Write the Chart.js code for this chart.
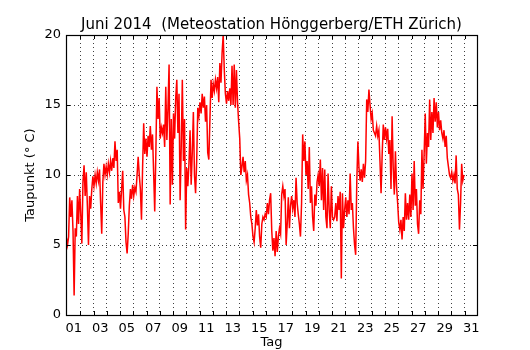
<!DOCTYPE html>
<html><head><meta charset="utf-8">
<script src="https://cdn.jsdelivr.net/npm/chart.js@4.4.1/dist/chart.umd.min.js"></script>
<style>html,body{margin:0;padding:0;background:#fff}</style>
</head><body>
<canvas id="c" width="530" height="350"></canvas>
<script>
// Dew point readings every 2 hours (°C)
const startDay = 0.45;       // x position (day units) of the first reading
const stepDays = 1 / 12;     // 2-hour spacing
const juni01_05 = [
  5.5,5.0,5.6,8.4,7.0,8.2,6.0,1.4,6.2,5.6,8.5,6.5,
  9.0,7.2,5.1,9.5,10.7,8.5,10.2,7.8,5.0,8.5,7.6,9.0,
  9.9,9.2,10.0,9.4,10.2,9.6,10.4,8.0,5.8,9.5,10.8,10.0,
  10.6,10.0,10.8,10.2,11.0,10.3,11.2,10.5,12.4,11.0,11.8,8.0,
  8.8,7.6,9.0,10.3,7.5,7.0,5.2,4.4,5.8,7.8,9.0,8.3];
const juni06_10 = [
  9.3,8.5,9.1,8.8,10.0,11.3,10.0,9.0,6.8,10.5,13.7,11.5,
  12.6,11.3,12.8,12.0,13.5,11.8,12.9,10.2,7.4,11.5,16.3,14.0,
  15.5,12.6,13.4,13.0,13.6,12.0,16.3,12.5,14.8,17.9,7.9,14.0,
  9.3,14.4,12.6,15.5,16.8,13.0,15.8,8.2,12.0,16.8,11.0,14.0,
  6.1,10.5,9.2,10.8,13.2,9.3,11.6,14.5,10.0,8.7,11.0,14.8];
const juni11_15 = [
  14.2,15.2,14.4,15.8,14.8,15.6,13.8,15.0,11.6,11.1,14.0,16.8,
  15.5,16.5,16.0,16.8,16.2,17.0,15.2,18.0,16.6,18.7,20.0,17.5,
  15.8,15.1,16.0,15.3,16.2,15.0,17.8,15.0,17.9,14.8,17.5,15.2,
  13.8,12.6,10.0,10.6,11.3,10.2,11.0,9.6,10.0,8.6,8.0,7.0,
  6.5,5.6,5.2,6.2,7.5,6.4,7.2,5.6,4.8,6.5,7.0,6.8];
const juni16_20 = [
  7.2,7.0,8.0,7.2,8.2,8.7,6.0,4.6,5.5,4.2,6.0,4.5,
  5.6,6.2,5.8,8.6,9.2,8.5,9.0,5.0,6.5,8.4,6.2,7.8,
  8.5,7.6,8.2,7.0,9.8,8.0,7.2,6.5,5.6,8.0,12.9,11.0,
  12.4,10.0,11.0,9.0,12.0,8.0,9.2,7.0,6.0,8.6,7.8,9.5,
  10.0,9.2,11.1,8.2,10.5,7.5,10.4,7.0,6.2,10.1,7.5,6.2];
const juni21_25 = [
  9.2,7.0,6.8,7.0,8.0,6.7,8.5,7.5,8.8,2.6,8.7,6.2,
  7.5,8.4,7.0,8.2,7.2,10.1,7.5,8.0,6.2,5.0,4.3,9.5,
  12.4,10.5,9.6,10.4,9.5,10.8,9.8,11.0,15.4,14.5,16.1,15.0,
  14.0,14.4,13.2,13.0,12.8,13.5,12.8,13.2,11.0,8.7,11.5,13.6,
  12.5,13.4,12.6,13.3,11.5,12.5,9.0,14.2,10.5,8.6,11.7,9.2];
const juni26_30 = [
  8.0,6.6,6.1,6.8,5.4,7.0,6.0,8.7,6.8,8.0,6.8,8.6,
  7.0,10.1,7.5,11.0,7.8,9.0,6.5,5.8,8.2,7.2,11.8,9.0,
  11.5,14.4,10.8,13.0,12.0,15.4,12.5,14.5,13.0,15.5,13.8,15.2,
  13.4,14.5,13.2,13.9,13.0,12.6,13.2,12.0,12.8,11.2,10.6,10.0,
  9.8,10.2,9.6,10.0,9.4,11.4,9.0,8.6,6.1,8.0,10.8,9.6,
  10.0];
const yTicks = [0, 5, 10, 15, 20];
const dayLabels = ['01','03','05','07','09','11','13','15','17','19','21','23','25','27','29','31'];
const chartTitle = 'Juni 2014  (Meteostation Hönggerberg/ETH Zürich)';

const dew = [].concat(juni01_05, juni06_10, juni11_15, juni16_20, juni21_25, juni26_30);
const points = dew.map((v, i) => ({ x: startDay + i * stepDays, y: v }));

const FONT = 'DejaVu Sans';
const isHalf = v => Math.abs(v % 1 - 0.5) < 1e-6;

const framePlugin = {
  id: 'frame',
  afterDatasetsDraw(chart) {
    const { ctx, chartArea: a, scales: { x, y } } = chart;
    ctx.save();
    ctx.strokeStyle = '#000';
    ctx.lineWidth = 1;
    ctx.beginPath();
    x.ticks.forEach(t => {
      if (!isHalf(t.value)) return;
      const px = Math.round(x.getPixelForValue(t.value)) + 0.5;
      ctx.moveTo(px, a.bottom); ctx.lineTo(px, a.bottom - 4);
      ctx.moveTo(px, a.top); ctx.lineTo(px, a.top + 4);
    });
    yTicks.forEach(v => {
      const py = Math.round(y.getPixelForValue(v)) + 0.5;
      ctx.moveTo(a.left, py); ctx.lineTo(a.left + 4, py);
      ctx.moveTo(a.right, py); ctx.lineTo(a.right - 4, py);
    });
    ctx.stroke();
    ctx.lineWidth = 1.2;
    ctx.strokeRect(Math.round(a.left) + 0.5, Math.round(a.top) + 0.5,
                   Math.round(a.right - a.left), Math.round(a.bottom - a.top));
    // chart title, centred over the plot area
    ctx.fillStyle = '#000';
    ctx.font = '15px "' + FONT + '"';
    ctx.textAlign = 'center';
    ctx.textBaseline = 'alphabetic';
    ctx.fillText(chartTitle, (a.left + a.right) / 2, a.top - 6.5);
    ctx.restore();
  }
};

new Chart(document.getElementById('c'), {
  type: 'line',
  data: { datasets: [{
    data: points,
    borderColor: '#ff0000',
    borderWidth: 1.5,
    pointRadius: 0,
    fill: false,
    tension: 0
  }]},
  options: {
    responsive: false,
    animation: false,
    layout: { padding: { left: 0, right: 53, top: 35, bottom: 0 } },
    plugins: {
      legend: { display: false },
      tooltip: { enabled: false },
      title: { display: false }
    },
    scales: {
      x: {
        type: 'linear',
        min: 0.42, max: 31.44,
        afterBuildTicks: s => {
          const t = [];
          for (let v = 1; v <= 31; v += 0.5) t.push({ value: v });
          s.ticks = t;
        },
        afterFit: s => { s.height = 35; },
        ticks: {
          autoSkip: false, maxRotation: 0, minRotation: 0,
          color: '#000', font: { family: FONT, size: 13 }, padding: 6,
          callback: v => (Number.isInteger(v) && v % 2 === 1) ? dayLabels[(v - 1) / 2] : ''
        },
        grid: {
          drawTicks: false,
          lineWidth: 1,
          color: c => (c.tick && isHalf(c.tick.value)) ? 'rgba(0,0,0,0.75)' : 'rgba(0,0,0,0)'
        },
        border: { display: false, dash: [1, 3] },
        title: {
          display: true, text: 'Tag', color: '#000',
          font: { family: FONT, size: 13, lineHeight: 1.2 },
          padding: { top: 0, bottom: 0 }
        }
      },
      y: {
        min: 0, max: 20,
        afterBuildTicks: s => { s.ticks = yTicks.map(v => ({ value: v })); },
        afterFit: s => { s.width = 66; },
        ticks: { color: '#000', font: { family: FONT, size: 13 }, padding: 5 },
        grid: {
          drawTicks: false,
          lineWidth: 1,
          color: c => (c.tick && c.tick.value > 0 && c.tick.value < 20) ? 'rgba(0,0,0,0.75)' : 'rgba(0,0,0,0)'
        },
        border: { display: false, dash: [1, 3] },
        title: {
          display: true, text: 'Taupunkt (° C)', color: '#000',
          font: { family: FONT, size: 13, lineHeight: 1.2 },
          padding: { top: 23, bottom: 0 }
        }
      }
    }
  },
  plugins: [framePlugin]
});
</script>
</body></html>
